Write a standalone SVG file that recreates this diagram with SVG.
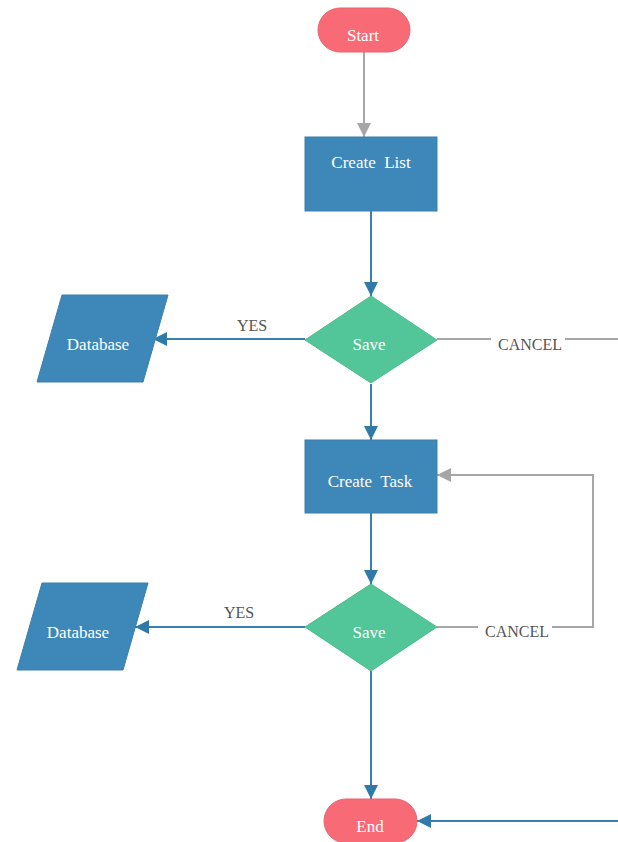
<svg xmlns="http://www.w3.org/2000/svg" width="618" height="842" viewBox="0 0 618 842">
<style>
.t{font-family:"Liberation Serif","Times New Roman",serif;font-size:17px;fill:#ffffff;text-anchor:middle;white-space:pre}
.l{font-family:"Liberation Serif","Times New Roman",serif;font-size:16px;fill:#555555;text-anchor:middle}
.box{fill:#3d88b8;stroke:#3a7fae;stroke-width:1}
.dia{fill:#52c698;stroke:#4dbb8f;stroke-width:1}
.term{fill:#f86a75;stroke:#e86470;stroke-width:1}
.cb{fill:none;stroke:#3b80ad;stroke-width:2}
.cg{fill:none;stroke:#a6a6a6;stroke-width:2}
</style>
<defs>
<marker id="ab" markerUnits="userSpaceOnUse" markerWidth="16" markerHeight="16" viewBox="0 0 16 16" refX="14" refY="8" orient="auto">
<path d="M0,1 L14,8 L0,15 Z" fill="#2f7aa8"/>
</marker>
<marker id="ag" markerUnits="userSpaceOnUse" markerWidth="16" markerHeight="16" viewBox="0 0 16 16" refX="14" refY="8" orient="auto">
<path d="M0,1 L14,8 L0,15 Z" fill="#a6a6a6"/>
</marker>
</defs>
<g id="connectors">
<line class="cg" x1="364" y1="52" x2="364" y2="137" marker-end="url(#ag)"/>
<line class="cb" x1="371" y1="211" x2="371" y2="296" marker-end="url(#ab)"/>
<line class="cb" x1="305" y1="339" x2="153" y2="339" marker-end="url(#ab)"/>
<text class="l" x="252" y="331">YES</text>
<line class="cg" x1="437" y1="339" x2="491" y2="339"/>
<line class="cg" x1="565" y1="339" x2="618" y2="339"/>
<text class="l" x="530" y="350">CANCEL</text>
<line class="cb" x1="371" y1="384" x2="371" y2="440" marker-end="url(#ab)"/>
<line class="cb" x1="371" y1="513" x2="371" y2="584" marker-end="url(#ab)"/>
<line class="cb" x1="305" y1="627" x2="135" y2="627" marker-end="url(#ab)"/>
<text class="l" x="239" y="618">YES</text>
<polyline class="cg" points="437,627 478,627"/>
<polyline class="cg" points="552,627 593,627 593,475 437,475" marker-end="url(#ag)"/>
<text class="l" x="517" y="637">CANCEL</text>
<line class="cb" x1="371" y1="671" x2="371" y2="799" marker-end="url(#ab)"/>
<line class="cb" x1="618" y1="821" x2="417" y2="821" marker-end="url(#ab)"/>
</g>
<g id="start">
<rect class="term" x="318" y="8" width="92" height="44" rx="22"/>
<text class="t" x="363" y="41">Start</text>
</g>
<g id="createList">
<rect class="box" x="305" y="137" width="132" height="74"/>
<text class="t" x="371" y="168">Create  List</text>
</g>
<g id="save1">
<polygon class="dia" points="371,296 437,340 371,383 305,340"/>
<text class="t" x="369" y="350">Save</text>
</g>
<g id="database1">
<polygon class="box" points="62,295 168,295 143,382 37,382"/>
<text class="t" x="98" y="350">Database</text>
</g>
<g id="createTask">
<rect class="box" x="305" y="440" width="132" height="73"/>
<text class="t" x="370" y="487">Create  Task</text>
</g>
<g id="save2">
<polygon class="dia" points="371,584 437,627 371,671 305,627"/>
<text class="t" x="369" y="638">Save</text>
</g>
<g id="database2">
<polygon class="box" points="42,583 148,583 123,670 17,670"/>
<text class="t" x="78" y="638">Database</text>
</g>
<g id="end">
<rect class="term" x="324" y="799" width="93" height="44" rx="22"/>
<text class="t" x="370" y="832">End</text>
</g>
</svg>
